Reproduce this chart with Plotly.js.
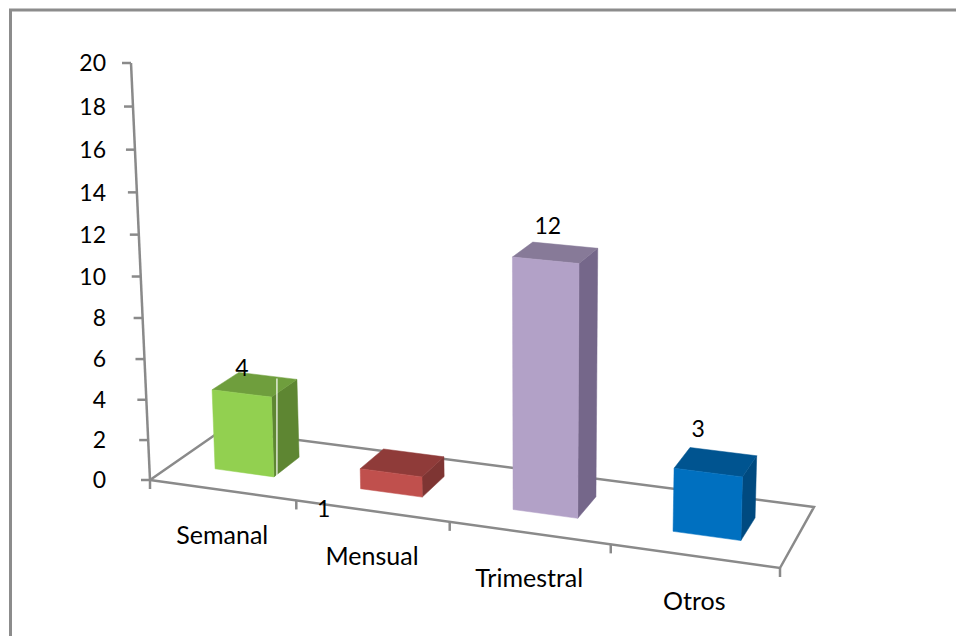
<!DOCTYPE html>
<html><head><meta charset="utf-8">
<script src="https://cdn.plot.ly/plotly-3.0.1.min.js"></script>
<style>html,body{margin:0;padding:0;background:#fff}#c{width:956px;height:636px}</style>
</head><body><div id="c"></div>
<script>
const categories = ['Semanal','Mensual','Trimestral','Otros'];
const values = [4,1,12,3];
const yTicks = [0,2,4,6,8,10,12,14,16,18,20];
const frontColors = ['#92D050','#C0504D','#B2A1C7','#0070C0'];
const topColors = ['#6F9E3D','#8F3B39','#877A98','#005490'];
const sideColors = ['#5E8632','#7E3533','#75678A','#004A80'];
const labelOffsets = [[-13,-15],[-79,48],[-8,-25],[-18,-31]];

// Perspective scale for the 3-D look: x = category position, d = depth 0..1, v = value
const corner00=[150,480], corner40=[780,568], corner01=[222,430], corner41=[814,507];
const yTop=[131,63], hPersp=-0.047, xMax=4, vMax=20;
const sx=corner00[0]-corner40[0]+corner41[0]-corner01[0], sy=corner00[1]-corner40[1]+corner41[1]-corner01[1];
const dx1=corner40[0]-corner41[0], dy1=corner40[1]-corner41[1], dx2=corner01[0]-corner41[0], dy2=corner01[1]-corner41[1];
const den=dx1*dy2-dx2*dy1;
const g=(sx*dy2-dx2*sy)/den, i_=(dx1*sy-sx*dy1)/den;
const ax=[0,1].map(k=>corner40[k]*(1+g)-corner00[k]);
const cx=[0,1].map(k=>corner01[k]*(1+i_)-corner00[k]);
const bx=[0,1].map(k=>yTop[k]*(1+hPersp)-corner00[k]);
function project(x,d,v){
  const u=x/xMax, w=v/vMax, W=1+g*u+i_*d+hPersp*w;
  return [0,1].map(k=>(corner00[k]+ax[k]*u+cx[k]*d+bx[k]*w)/W);
}
const traces=[];
function line(pts,color,width){
  traces.push({type:'scatter',mode:'lines',x:pts.map(p=>p[0]),y:pts.map(p=>p[1]),
    line:{color:color,width:width,simplify:false},hoverinfo:'skip',showlegend:false});
}
function poly(pts,color){
  const c=pts.concat([pts[0]]);
  traces.push({type:'scatter',mode:'lines',x:c.map(p=>p[0]),y:c.map(p=>p[1]),fill:'toself',fillcolor:color,
    line:{color:color,width:0.5},hoverinfo:'skip',showlegend:false});
}
function text(x,y,t,pos,size){
  traces.push({type:'scatter',mode:'text',x:[x],y:[y],text:[t],textposition:pos||'middle center',
    textfont:{family:'Lato, Carlito, sans-serif',size:size,color:'#000'},hoverinfo:'skip',showlegend:false});
}
const AX='#8A8A8A';
// outer frame
line([[10.5,636],[10.5,10],[956,10]],'#8C8C8C',3);
// floor and walls
line([project(0,0,0),project(4,0,0),project(4,1,0),project(0,1,0),project(0,0,0)],AX,2.5);
line([project(0,0,0),project(0,0,20)],AX,2.5);
yTicks.forEach(t=>{
  const p=project(0,0,t);
  line([[p[0]-9,p[1]],p],AX,2.5);
  text(106,p[1]+2.5,String(t),'middle left',23);
});
for(let k=0;k<=4;k++){
  const p=project(k,0,0);
  line([p,[p[0],p[1]+9]],AX,2.5);
}
// bars
const bar0=0.29, bar1=0.70, d0=0.32, d1=0.70;
categories.forEach((c,k)=>{
  const v=values[k], a=k+bar0, b=k+bar1;
  poly([project(b,d0,0),project(b,d1,0),project(b,d1,v),project(b,d0,v)],sideColors[k]);
  poly([project(a,d0,v),project(b,d0,v),project(b,d1,v),project(a,d1,v)],topColors[k]);
  poly([project(a,d0,0),project(b,d0,0),project(b,d0,v),project(a,d0,v)],frontColors[k]);
  const top=project(k+0.5,0.5,v);
  text(top[0]+labelOffsets[k][0],top[1]+labelOffsets[k][1],String(v),null,23);
  const base=project(k+0.5,0,0);
  text(base[0],base[1]+48,c,null,25);
});
// thin white seam on the first bar
const seamBase=project(bar1,d0,0), seamTop=project(bar1,d1,values[0]);
line([[seamBase[0]+3,seamBase[1]-1],[seamBase[0]+3,seamTop[1]-1]],'#FFFFFF',1.2);
const layout={width:956,height:636,margin:{l:0,r:0,t:0,b:0},showlegend:false,
  paper_bgcolor:'#fff',plot_bgcolor:'#fff',
  xaxis:{range:[0,956],visible:false,fixedrange:true},
  yaxis:{range:[636,0],visible:false,fixedrange:true}};
Plotly.newPlot('c',traces,layout,{displayModeBar:false,staticPlot:true});
</script></body></html>
